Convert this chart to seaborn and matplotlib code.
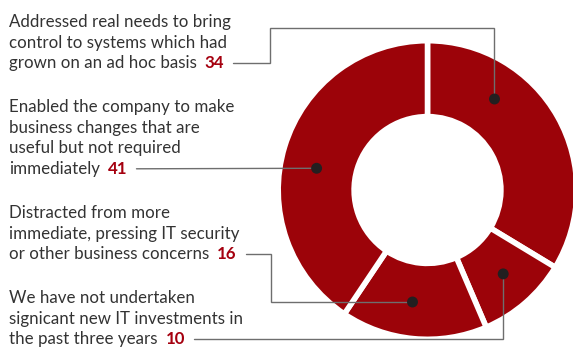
import matplotlib
matplotlib.use("Agg")
import matplotlib.pyplot as plt
import numpy as np
import pandas as pd
import seaborn as sns

# Survey answers, in slice order (clockwise from 12 o'clock)
answers = [
    "Addressed real needs to bring\ncontrol to systems which had\ngrown on an ad hoc basis",
    "We have not undertaken\nsignicant new IT investments in\nthe past three years",
    "Distracted from more\nimmediate, pressing IT security\nor other business concerns",
    "Enabled the company to make\nbusiness changes that are\nuseful but not required\nimmediately",
]
shares = [34, 10, 16, 41]

# Layout (pixels, y measured from the top of the figure)
W, H = 573, 347
CENTER = (427.5, 190.0)
R_OUT, R_IN = 149.3, 73.4
first_baseline = [27, 303, 218, 112]      # first text line of each answer
line_step = 20.6
dot_frac = [0.30, 0.47, 0.54, 0.46]       # where the marker sits along each slice
DOT_R = 113

RED = "#9c0309"
NUM_RED = "#a5000f"
TEXT = "#333333"
LEADER = "#6e6e6e"

sns.set_theme(style="white")
plt.rcParams["font.family"] = ["Lato", "DejaVu Sans"]

fig = plt.figure(figsize=(W / 100, H / 100), dpi=100)
ax = fig.add_axes([0, 0, 1, 1])

cx, cy = CENTER[0], H - CENTER[1]
ax.pie(shares, startangle=90, counterclock=False, radius=R_OUT, center=(cx, cy),
       colors=[RED] * len(shares),
       wedgeprops=dict(width=R_OUT - R_IN, edgecolor="white", linewidth=4))
ax.set_xlim(0, W)
ax.set_ylim(0, H)
ax.set_aspect("equal")
ax.axis("off")

# marker positions on the ring
total = sum(shares)
start = 90.0
dots = []
for v, f in zip(shares, dot_frac):
    span = v / total * 360
    ang = np.deg2rad(start - f * span)
    dots.append((cx + DOT_R * np.cos(ang), cy + DOT_R * np.sin(ang)))
    start -= span
dot_df = pd.DataFrame(dots, columns=["x", "y"])

renderer = fig.canvas.get_renderer()
line_ends = []
for text, v, b0 in zip(answers, shares, first_baseline):
    lines = text.split("\n")
    last = None
    for i, ln in enumerate(lines):
        last = ax.text(9, H - (b0 + i * line_step), ln, fontsize=12.2, color=TEXT,
                       ha="left", va="baseline")
    bb = last.get_window_extent(renderer)
    ybase = H - (b0 + (len(lines) - 1) * line_step)
    num = ax.text(bb.x1 + 8, ybase, str(v), fontsize=12.2, fontweight="bold",
                  color=NUM_RED, ha="left", va="baseline")
    nb = num.get_window_extent(renderer)
    line_ends.append((nb.x1 + 9, ybase + 5))

# leader lines from each answer to its slice
elbow_x = 270
(sx0, sy0), (sx1, sy1), (sx2, sy2), (sx3, sy3) = line_ends
(d0x, d0y), (d1x, d1y), (d2x, d2y), (d3x, d3y) = dots
paths = [
    [(sx0, sy0), (elbow_x, sy0), (elbow_x, H - 28), (d0x, H - 28), (d0x, d0y)],
    [(sx1, sy1), (d1x, sy1), (d1x, d1y)],
    [(sx2, sy2), (elbow_x + 1, sy2), (elbow_x + 1, d2y), (d2x, d2y)],
    [(sx3, sy3), (d3x, d3y)],
]
for p in paths:
    xs, ys = zip(*p)
    ax.plot(xs, ys, color=LEADER, lw=1.0, solid_joinstyle="miter", zorder=3)

sns.scatterplot(data=dot_df, x="x", y="y", ax=ax, s=62, color="#231f20",
                edgecolor="none", zorder=4, legend=False)
ax.set_xlim(0, W)
ax.set_ylim(0, H)
ax.axis("off")

fig.savefig("out.png", dpi=100)
